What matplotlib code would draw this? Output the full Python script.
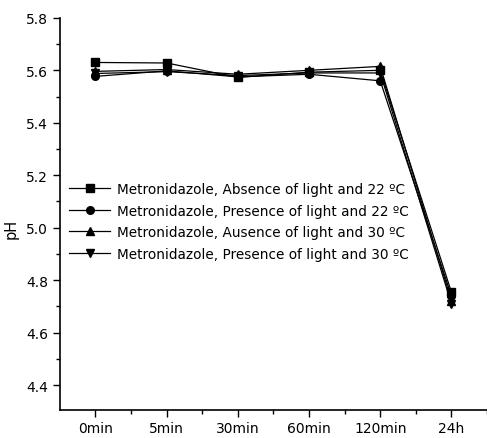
import numpy as np
import matplotlib.pyplot as plt
from matplotlib.ticker import MultipleLocator

# Data
times = ['0min', '5min', '30min', '60min', '120min', '24h']
abs_22 = [5.630, 5.628, 5.573, 5.593, 5.600, 4.754]
pres_22 = [5.577, 5.598, 5.575, 5.585, 5.560, 4.740]
abs_30 = [5.596, 5.603, 5.585, 5.600, 5.615, 4.722]
pres_30 = [5.588, 5.595, 5.580, 5.590, 5.590, 4.710]

labels = ['Metronidazole, Absence of light and 22 ºC',
          'Metronidazole, Presence of light and 22 ºC',
          'Metronidazole, Ausence of light and 30 ºC',
          'Metronidazole, Presence of light and 30 ºC']
markers = ['s', 'o', '^', 'v']

fig = plt.figure(figsize=(4.87, 4.39), dpi=100)
ax = fig.add_axes([0.123, 0.0645, 0.877, 0.8925])

x = np.arange(len(times))
for vals, m, lab in zip([abs_22, pres_22, abs_30, pres_30], markers, labels):
    ax.plot(x, vals, color='black', lw=0.9, marker=m, markersize=5.5, label=lab)

ax.set_xlim(-0.5, 5.5)
ax.set_ylim(4.306, 5.8)
ax.set_xticks(x)
ax.set_xticklabels(times)
ax.set_xticks(x + 0.5, minor=True)
ax.set_yticks(np.arange(4.4, 5.81, 0.2))
ax.set_yticklabels(['%.1f' % v for v in np.arange(4.4, 5.81, 0.2)])
ax.yaxis.set_minor_locator(MultipleLocator(0.1))

for s in ['top', 'right']:
    ax.spines[s].set_visible(False)
for s in ['left', 'bottom']:
    ax.spines[s].set_linewidth(1.2)
ax.tick_params(which='major', length=5, width=1, labelsize=10, colors='black')
ax.tick_params(which='minor', length=3, width=1)
ax.tick_params(axis='x', pad=3)
ax.set_ylabel('pH', fontsize=10.5, labelpad=0)
ax.yaxis.set_label_coords(-0.097, 0.464)

ax.legend(loc='upper left', bbox_to_anchor=(0.0, 0.605), frameon=False,
          fontsize=9.8, handlelength=3.0, labelspacing=0.55, handletextpad=0.5,
          borderaxespad=0.3)

plt.savefig('out.png', dpi=100)
